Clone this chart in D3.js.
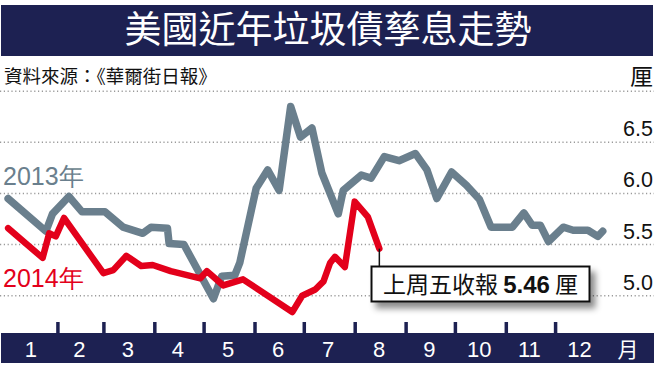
<!DOCTYPE html>
<html><head><meta charset="utf-8">
<script src="https://cdn.jsdelivr.net/npm/d3@7"></script>
<style>body{margin:0;background:#fff}svg{display:block}</style>
</head><body>
<svg id="c" width="654" height="365"></svg>
<script>
const titleText = "美國近年垃圾債孳息走勢";
const sourceText = "資料來源：《華爾街日報》";
const unitText = "厘";
const monthLabels = ["1","2","3","4","5","6","7","8","9","10","11","12"];
const monthUnit = "月";
const yTicks = [5.0, 5.5, 6.0, 6.5];
const yUnitAt = 7.0;
const series2013Name = "2013年";
const series2014Name = "2014年";
const dates2013 = ["01-02","01-25","01-29","02-08","02-16","03-02","03-13","03-25","03-30","04-09","04-10","04-19",
  "05-07","05-12","05-20","05-23","06-02","06-09","06-16","06-23","06-29","07-06","07-12","07-22","07-25",
  "08-05","08-11","08-19","08-28","09-07","09-14","09-20","09-29","10-08","10-16","10-23","11-05","11-12",
  "11-17","11-22","11-27","12-06","12-12","12-21","12-27","12-30"];
const values2013 = [5.95,5.63,5.80,5.97,5.82,5.82,5.67,5.61,5.67,5.66,5.51,5.50,
  4.97,5.19,5.20,5.32,6.05,6.23,6.03,6.85,6.55,6.64,6.20,5.80,6.03,
  6.18,6.15,6.36,6.32,6.39,6.23,5.95,6.21,6.08,5.94,5.67,5.67,5.81,
  5.69,5.69,5.53,5.67,5.64,5.64,5.58,5.63];
const dates2014 = ["01-02","01-23","01-27","01-31","02-05","03-01","03-07","03-15","03-24","03-31","04-11","04-29",
  "05-03","05-13","05-25","06-24","06-30","07-08","07-13","07-17","07-20","07-26","08-01","08-09","08-16"];
const values2014 = [5.66,5.37,5.61,5.58,5.76,5.22,5.25,5.39,5.29,5.30,5.24,5.17,
  5.24,5.10,5.16,4.84,5.00,5.06,5.14,5.32,5.38,5.28,5.92,5.77,5.46];
const lastLabelPre = "上周五收報 ";
const lastLabelValue = "5.46";
const lastLabelPost = " 厘";

const NAVY = "#1d2152", GRAY = "#6a7f8d", RED = "#e3001b";
const svg = d3.select("#c");
const parse = s => d3.timeParse("%Y-%m-%d")("2013-" + s);
const x = d3.scaleTime().domain([new Date(2013,0,1), new Date(2014,0,1)]).range([6.5, 606]);
const y = d3.scaleLinear().domain([5, 6.5]).range([295.7, 142.3]);

const defs = svg.append("defs");
const f = defs.append("filter").attr("id","sh").attr("x","-10%").attr("y","-30%").attr("width","130%").attr("height","180%");
f.append("feDropShadow").attr("dx",5).attr("dy",6).attr("stdDeviation",3).attr("flood-color","#000").attr("flood-opacity",0.45);

// title band
svg.append("rect").attr("x",1).attr("y",5).attr("width",652).attr("height",51).attr("fill",NAVY);
svg.append("text").attr("x",328).attr("y",43).attr("text-anchor","middle")
  .attr("font-family","'Noto Sans CJK TC'").attr("font-size",37).attr("fill","#fff").text(titleText);
svg.append("text").attr("x",4).attr("y",83)
  .attr("font-family","'Noto Sans CJK TC'").attr("font-size",18.5).attr("fill","#111").text(sourceText);

// gridlines
const gridVals = yTicks.concat([yUnitAt]);
svg.append("g").selectAll("line").data(gridVals).join("line")
  .attr("x1",0).attr("x2",654).attr("y1",d=>y(d)).attr("y2",d=>y(d))
  .attr("stroke","#9a9a9a").attr("stroke-width",1.5).attr("stroke-dasharray","1.2 2.6");
svg.append("g").selectAll("text").data(yTicks).join("text")
  .attr("x",653).attr("y",d=>y(d)-6).attr("text-anchor","end")
  .attr("font-family","'Liberation Sans',Arial").attr("font-size",21.5).attr("fill","#111")
  .text(d=>d.toFixed(1));
svg.append("text").attr("x",653).attr("y",y(yUnitAt)-6).attr("text-anchor","end")
  .attr("font-family","'Noto Sans CJK TC'").attr("font-size",23).attr("fill","#111").text(unitText);

// lines
const line = d3.line().x(d=>x(d[0])).y(d=>y(d[1]));
const d13 = dates2013.map((d,i)=>[parse(d), values2013[i]]);
const d14 = dates2014.map((d,i)=>[parse(d), values2014[i]]);
svg.append("path").attr("d",line(d13)).attr("fill","none").attr("stroke",GRAY)
  .attr("stroke-width",7.5).attr("stroke-linejoin","round").attr("stroke-linecap","round");
svg.append("path").attr("d",line(d14)).attr("fill","none").attr("stroke",RED)
  .attr("stroke-width",6.5).attr("stroke-linejoin","round").attr("stroke-linecap","round");

// series labels
svg.append("text").attr("x",3).attr("y",185).attr("font-family","'Liberation Sans',Arial")
  .attr("font-size",25).attr("fill",GRAY).text(series2013Name);
svg.append("text").attr("x",3).attr("y",287).attr("font-family","'Liberation Sans',Arial")
  .attr("font-size",25).attr("fill",RED).text(series2014Name);

// annotation
const last = d14[d14.length-1];
const ax = x(last[0]);
svg.append("line").attr("x1",ax).attr("x2",ax).attr("y1",y(last[1])).attr("y2",267)
  .attr("stroke","#111").attr("stroke-width",1.5);
svg.append("rect").attr("x",371.5).attr("y",266.5).attr("width",218).attr("height",35)
  .attr("fill","#fff").attr("stroke","#111").attr("stroke-width",2).attr("filter","url(#sh)");
const at = svg.append("text").attr("x",480.5).attr("y",293).attr("text-anchor","middle")
  .attr("font-family","'Liberation Sans','Noto Sans CJK TC'").attr("font-size",23).attr("fill","#111");
at.append("tspan").attr("font-family","'Noto Sans CJK TC'").text(lastLabelPre);
at.append("tspan").attr("font-weight","bold").attr("font-size",24).text(lastLabelValue);
at.append("tspan").attr("font-family","'Noto Sans CJK TC'").text(lastLabelPost);

// bottom axis
svg.append("rect").attr("x",1).attr("y",333).attr("width",653).attr("height",30).attr("fill",NAVY);
const months = d3.timeMonth.range(new Date(2013,0,1), new Date(2014,0,1));
const ax2 = d3.axisTop(x).tickValues(months.slice(1)).tickSize(11).tickFormat("");
const gAx = svg.append("g").attr("transform","translate(0,333)").call(ax2);
gAx.select(".domain").remove();
gAx.selectAll(".tick line").attr("stroke",NAVY).attr("stroke-width",3.5);
svg.append("g").selectAll("text").data(months).join("text")
  .attr("x",(d,i)=>(x(d)+x(d3.timeMonth.offset(d,1)))/2 - 1)
  .attr("y",357).attr("text-anchor","middle")
  .attr("font-family","'Liberation Sans',Arial").attr("font-size",22).attr("fill","#fff")
  .text((d,i)=>monthLabels[i]);
svg.append("text").attr("x",628).attr("y",357).attr("text-anchor","middle")
  .attr("font-family","'Noto Sans CJK TC'").attr("font-size",21).attr("fill","#fff").text(monthUnit);
</script>
</body></html>
